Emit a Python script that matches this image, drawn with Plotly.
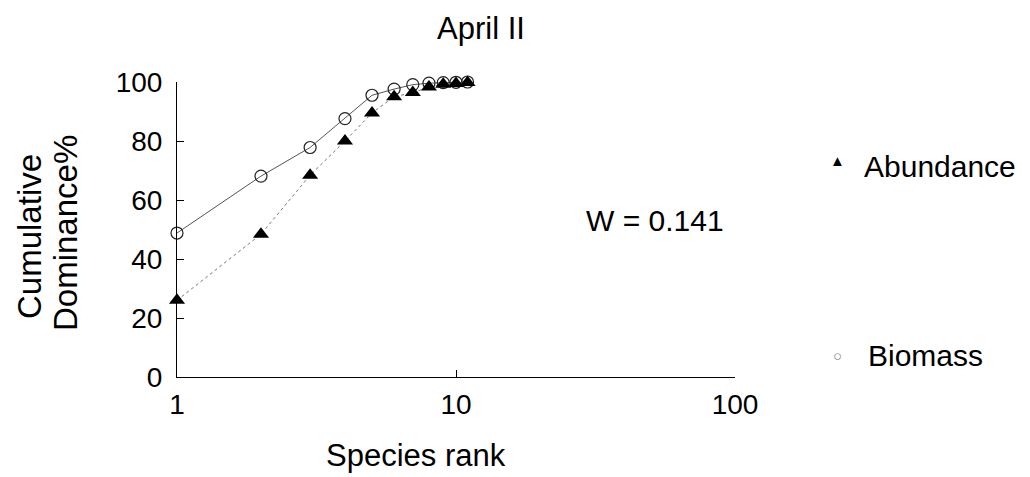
import plotly.graph_objects as go

ranks = [1, 2, 3, 4, 5, 6, 7, 8, 9, 10, 11]
abundance = [26.0, 48.4, 68.4, 80.0, 89.5, 95.0, 96.4, 98.3, 99.2, 99.5, 99.8]
biomass = [48.8, 68.1, 77.8, 87.6, 95.5, 97.6, 99.1, 99.6, 99.8, 99.9, 100.0]

x_ticks = [1, 10, 100]
y_ticks = [0, 20, 40, 60, 80, 100]

FONT = "Liberation Sans, Arial, sans-serif"
W, H = 1030, 477
L, R, T, B = 177, 735, 82, 377


def px(x):
    return (x - L) / (R - L)


def py(y):
    return (B - y) / (B - T)


fig = go.Figure()
fig.add_trace(go.Scatter(
    x=ranks, y=biomass, mode="lines+markers", name="Biomass",
    line=dict(color="#555555", width=1),
    marker=dict(symbol="circle-open", size=12, color="#222222", line=dict(width=1.2)),
    cliponaxis=False, showlegend=False))
fig.add_trace(go.Scatter(
    x=ranks, y=abundance, mode="lines+markers", name="Abundance",
    line=dict(color="#777777", width=1, dash="dot"),
    marker=dict(symbol="triangle-up", size=14, color="black"),
    cliponaxis=False, showlegend=False))

fig.update_layout(
    width=W, height=H,
    margin=dict(l=L, r=W - R, t=T, b=H - B),
    paper_bgcolor="white", plot_bgcolor="white",
    font=dict(family=FONT, size=28, color="black"),
    xaxis=dict(type="log", range=[0, 2], tickvals=x_ticks, ticktext=[str(v) for v in x_ticks],
               showgrid=False, zeroline=False, showline=True, linecolor="black", linewidth=1,
               ticks="inside", ticklen=7, tickcolor="black", ticklabelstandoff=2),
    yaxis=dict(range=[0, 100], tickvals=y_ticks, showgrid=False, zeroline=False,
               showline=True, linecolor="black", linewidth=1,
               ticks="inside", ticklen=7, tickcolor="black", ticklabelstandoff=8),
)

def ann(x, y, text, size=30, color="black", xanchor="center", angle=0):
    fig.add_annotation(xref="paper", yref="paper", x=px(x), y=py(y), text=text,
                       showarrow=False, xanchor=xanchor, yanchor="middle",
                       textangle=angle, font=dict(size=size, color=color, family=FONT))

# titles
ann(481, 28, "April II", size=31)
ann(416, 455, "Species rank", size=31)
ann(30, 237, "Cumulative", size=33, angle=-90)
ann(66, 233, "Dominance%", size=33, angle=-90)

# statistic
ann(655, 220, "W = 0.141", size=30)

# legend
ann(837, 160, "▲", size=15)
ann(862, 166, "Abundance", size=30, xanchor="left")
ann(837, 355, "○", size=15, color="#888888")
ann(866, 355, "Biomass", size=30, xanchor="left")

fig.write_html("out.html")
